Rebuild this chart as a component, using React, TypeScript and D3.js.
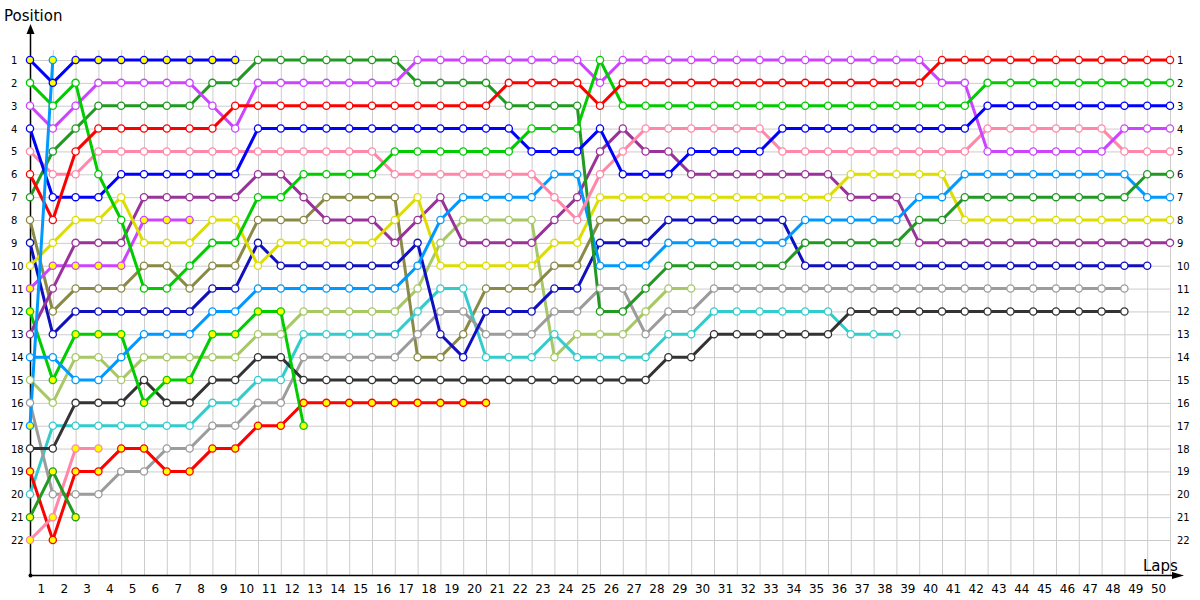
import React from "react";
import * as d3 from "d3";

// Lap positions (index = lap number, starting at lap 0 = grid)
const red = [6,8,5,4,4,4,4,4,4,3,3,3,3,3,3,3,3,3,3,3,3,2,2,2,2,3,2,2,2,2,2,2,2,2,2,2,2,2,2,2,1,1,1,1,1,1,1,1,1,1,1];
const green = [2,3,2,6,8,11,11,10,9,9,7,7,6,6,6,6,5,5,5,5,5,5,4,4,4,1,3,3,3,3,3,3,3,3,3,3,3,3,3,3,3,3,2,2,2,2,2,2,2,2,2];
const blue = [4,7,7,7,6,6,6,6,6,6,4,4,4,4,4,4,4,4,4,4,4,4,5,5,5,4,6,6,6,5,5,5,5,4,4,4,4,4,4,4,4,4,3,3,3,3,3,3,3,3,3];
const magenta = [3,4,3,2,2,2,2,2,3,4,2,2,2,2,2,2,2,1,1,1,1,1,1,1,1,2,1,1,1,1,1,1,1,1,1,1,1,1,1,1,2,2,5,5,5,5,5,5,4,4,4];
const pink = [5,6,6,5,5,5,5,5,5,5,5,5,5,5,5,5,6,6,6,6,6,6,6,7,8,6,5,4,4,4,4,4,4,5,5,5,5,5,5,5,5,5,4,4,4,4,4,4,5,5,5];
const darkGreen = [7,5,4,3,3,3,3,3,2,2,1,1,1,1,1,1,1,2,2,2,2,3,3,3,3,12,12,11,10,10,10,10,10,10,9,9,9,9,9,8,8,7,7,7,7,7,7,7,7,6,6];
const lightBlue = [14,14,15,15,14,13,13,13,12,12,11,11,11,11,11,11,11,10,8,7,7,7,7,6,6,10,10,10,9,9,9,9,9,9,8,8,8,8,8,7,7,6,6,6,6,6,6,6,6,7,7];
const yellow = [10,9,8,8,7,9,9,9,8,8,10,9,9,9,9,9,8,7,10,10,10,10,10,9,9,7,7,7,7,7,7,7,7,7,7,7,6,6,6,6,6,8,8,8,8,8,8,8,8,8,8];
const purple = [13,11,9,9,9,7,7,7,7,7,6,6,7,8,8,8,9,8,7,9,9,9,9,8,7,5,4,5,5,6,6,6,6,6,6,6,7,7,7,9,9,9,9,9,9,9,9,9,9,9,9];
const darkBlue = [9,13,12,12,12,12,12,12,11,11,9,10,10,10,10,10,10,9,13,14,12,12,12,11,11,9,9,9,8,8,8,8,8,8,10,10,10,10,10,10,10,10,10,10,10,10,10,10,10,10];
const grey = [16,20,20,20,19,19,18,18,17,17,16,16,14,14,14,14,14,13,12,12,13,13,13,12,12,11,11,13,12,12,11,11,11,11,11,11,11,11,11,11,11,11,11,11,11,11,11,11,11];
const darkGrey = [18,18,16,16,16,15,16,16,15,15,14,14,15,15,15,15,15,15,15,15,15,15,15,15,15,15,15,15,14,14,13,13,13,13,13,13,12,12,12,12,12,12,12,12,12,12,12,12,12];
const teal = [20,17,17,17,17,17,17,17,16,16,15,15,13,13,13,13,13,12,11,11,14,14,14,13,14,14,14,14,13,13,12,12,12,12,12,12,13,13,13];
const olive = [8,12,11,11,11,10,10,11,10,10,8,8,8,7,7,7,7,14,14,13,11,11,11,10,10,8,8,8];
const lightOlive = [15,16,14,14,15,14,14,14,14,14,13,13,12,12,12,12,12,11,9,8,8,8,8,14,13,13,13,12,11,11];
const redY = [19,22,19,19,18,18,19,19,18,18,17,17,16,16,16,16,16,16,16,16,16];
const blueY = [1,2,1,1,1,1,1,1,1,1];
const magentaY = [11,10,10,10,10,8,8,8];
const greenY = [12,15,13,13,13,16,15,15,13,13,12,12,17];
const pinkY = [22,21,18,18];
const darkGreenY = [21,19,21];
const lightBlueY = [17,1];

const positionTicks = d3.range(1, 23);
const lapTicks = d3.range(1, 51);

type Series = { pos: number[]; color: string; yellow: boolean };
const series: Series[] = [
  { pos: lightOlive, color: "#a6c865", yellow: false },
  { pos: olive, color: "#8a8a46", yellow: false },
  { pos: teal, color: "#33cccc", yellow: false },
  { pos: grey, color: "#9c9c9c", yellow: false },
  { pos: darkGrey, color: "#333333", yellow: false },
  { pos: redY, color: "#ff0000", yellow: true },
  { pos: pinkY, color: "#ff88aa", yellow: true },
  { pos: darkGreenY, color: "#229922", yellow: true },
  { pos: greenY, color: "#00cc00", yellow: true },
  { pos: magentaY, color: "#cc44ff", yellow: true },
  { pos: darkBlue, color: "#1010c0", yellow: false },
  { pos: purple, color: "#993399", yellow: false },
  { pos: yellow, color: "#dddd00", yellow: false },
  { pos: lightBlue, color: "#0099ff", yellow: false },
  { pos: darkGreen, color: "#229922", yellow: false },
  { pos: pink, color: "#ff88aa", yellow: false },
  { pos: magenta, color: "#cc44ff", yellow: false },
  { pos: blue, color: "#0000ff", yellow: false },
  { pos: green, color: "#00cc00", yellow: false },
  { pos: red, color: "#ff0000", yellow: false },
  { pos: blueY, color: "#0000ff", yellow: true },
  { pos: lightBlueY, color: "#0099ff", yellow: true },
];

const W = 1200;
const H = 600;
const x0 = 30;
const axisY = 575;

export default function App() {
  const x = d3.scaleLinear().domain([0, 50]).range([x0, 1170]);
  const y = d3.scaleLinear().domain([1, 22]).range([60, 540]);
  const line = d3
    .line<number>()
    .x((_, i) => x(i))
    .y((p) => y(p));
  const font = "DejaVu Sans, Verdana, sans-serif";

  return (
    <svg
      width={W}
      height={H}
      style={{ position: "absolute", left: 0, top: 0, background: "#fff" }}
      fontFamily={font}
    >
      {/* grid */}
      <g stroke="#cccccc" strokeWidth={1}>
        {d3.range(0, 51).map((l) => (
          <line key={"v" + l} x1={x(l) + 0.5} x2={x(l) + 0.5} y1={50} y2={axisY} />
        ))}
        {positionTicks.map((p) => (
          <line key={"h" + p} x1={x0} x2={1170} y1={y(p) + 0.5} y2={y(p) + 0.5} />
        ))}
      </g>
      {/* axes */}
      <g stroke="#000" strokeWidth={1.5}>
        <line x1={x0 + 0.5} x2={x0 + 0.5} y1={axisY} y2={30} />
        <line x1={x0} x2={1176} y1={axisY + 0.5} y2={axisY + 0.5} />
      </g>
      <path d={`M${x0 + 0.5},24 L${x0 - 3.5},34 L${x0 + 4.5},34 Z`} fill="#000" />
      <path d={`M1184,${axisY + 0.5} L1172,${axisY - 3} L1172,${axisY + 4} Z`} fill="#000" />
      <circle cx={x0 + 0.5} cy={axisY + 0.5} r={2} fill="#000" />
      <text x={4} y={21} fontSize={15} fill="#000">Position</text>
      <text x={1143} y={571} fontSize={15} fill="#000">Laps</text>
      {/* tick labels */}
      <g fontSize={10} fill="#000">
        {positionTicks.map((p) => (
          <text key={"l" + p} x={11} y={y(p) + 4}>{p}</text>
        ))}
        {positionTicks.map((p) => (
          <text key={"r" + p} x={1177} y={y(p) + 4}>{p}</text>
        ))}
      </g>
      <g fontSize={12} fill="#000" textAnchor="middle">
        {lapTicks.map((l) => (
          <text key={"b" + l} x={x(l) - 11.4} y={593}>{l}</text>
        ))}
      </g>
      {/* lines */}
      <g fill="none" strokeWidth={3} strokeLinejoin="round">
        {series.map((s, i) => (
          <path key={"s" + i} d={line(s.pos) || ""} stroke={s.color} />
        ))}
      </g>
      {/* markers */}
      <g strokeWidth={1.3}>
        {series.map((s, i) =>
          s.pos.map((p, l) => (
            <circle
              key={"m" + i + "-" + l}
              cx={x(l)}
              cy={y(p)}
              r={3.6}
              fill={s.yellow ? "#ffff00" : "#ffffff"}
              stroke={s.color}
            />
          ))
        )}
      </g>
    </svg>
  );
}
